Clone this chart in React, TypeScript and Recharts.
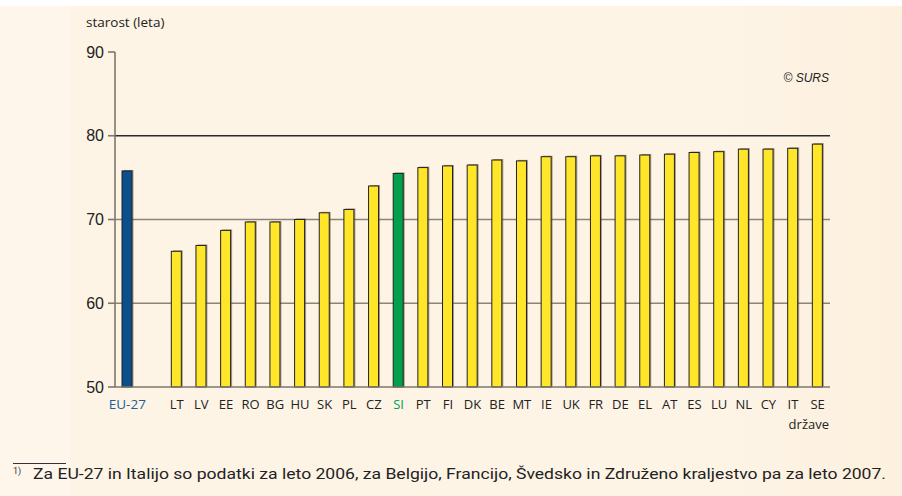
import React from "react";
import { BarChart, Bar, XAxis, YAxis, CartesianGrid, ReferenceLine } from "recharts";

const countries = ["EU-27", "", "LT", "LV", "EE", "RO", "BG", "HU", "SK", "PL", "CZ", "SI", "PT", "FI", "DK", "BE", "MT", "IE", "UK", "FR", "DE", "EL", "AT", "ES", "LU", "NL", "CY", "IT", "SE"];
const values: (number | null)[] = [75.8, null, 66.2, 66.9, 68.7, 69.7, 69.7, 70.0, 70.8, 71.2, 74.0, 75.5, 76.2, 76.4, 76.5, 77.1, 77.0, 77.5, 77.5, 77.6, 77.6, 77.7, 77.8, 78.0, 78.1, 78.4, 78.4, 78.5, 79.0];
const yTicks = [50, 60, 70, 80, 90];

const data = countries.map((c, i) => ({ name: c, value: values[i] }));

const barColor = (name: string) => (name === "EU-27" ? "#0b4f8c" : name === "SI" ? "#00a04c" : "#ffe629");
const labelColor = (name: string) => (name === "EU-27" ? "#1b5f9a" : name === "SI" ? "#00a04c" : "#222222");

const BarShape = (props: any) => {
  const { x, y, width, height, payload } = props;
  if (height == null || height <= 0) return null;
  return (
    <g>
      <rect x={x + 1.5} y={y - 1} width={width} height={height + 1} fill="rgba(95,85,72,0.55)" />
      <rect x={x} y={y} width={width} height={height} fill={barColor(payload.name)} stroke="#222" strokeWidth={1} />
    </g>
  );
};

const XTick = (props: any) => {
  const { x, y, payload } = props;
  const special = payload.value === "EU-27";
  return (
    <text x={x} y={y} dy={9} textAnchor="middle" fontFamily="'Open Sans'" fontSize={special ? 13.5 : 13} fill={labelColor(payload.value)}>
      {payload.value}
    </text>
  );
};

export default function App() {
  return (
    <div style={{ position: "fixed", left: 0, top: 0, width: 902, height: 496, background: "#ffffff", overflow: "hidden" }}>
      <div
        style={{
          position: "absolute",
          left: 0,
          top: 6,
          width: 902,
          height: 490,
          background: "linear-gradient(to right, #fef6eb 0px, #fef6eb 70px, #fdf4e6 71px, #fdf4e6 720px, #fdf0de 902px)",
        }}
      />
      <div style={{ position: "absolute", left: 0, top: 0 }}>
        <BarChart width={902} height={496} data={data} margin={{ top: 52, right: 72, bottom: 79, left: 0 }} barSize={10}>
          <CartesianGrid vertical={false} horizontalValues={[60, 70]} stroke="#8c8478" strokeWidth={1.6} />
          <ReferenceLine y={80} stroke="#2b2b2b" strokeWidth={1.3} ifOverflow="extendDomain" />
          <XAxis
            dataKey="name"
            interval={0}
            tickLine={false}
            tickSize={0}
            tickMargin={13}
            axisLine={{ stroke: "#7d776d", strokeWidth: 1.6 }}
            height={30}
            tick={<XTick />}
          />
          <YAxis
            domain={[50, 90]}
            ticks={yTicks}
            width={115}
            interval={0}
            tickSize={7}
            tickMargin={4}
            axisLine={{ stroke: "#7d776d", strokeWidth: 1.6 }}
            tickLine={{ stroke: "#7d776d", strokeWidth: 1.6 }}
            tick={{ fontFamily: "'Liberation Sans', Arial", fontSize: 16, fill: "#222" }}
          />
          <Bar dataKey="value" isAnimationActive={false} shape={<BarShape />} />
        </BarChart>
      </div>
      <div style={{ position: "absolute", left: 86, top: 13, fontFamily: "'Open Sans'", fontSize: 13.5, color: "#222", whiteSpace: "nowrap" }}>
        starost (leta)
      </div>
      <div style={{ position: "absolute", right: 902 - 829, top: 71, fontFamily: "'Liberation Sans', Arial", fontStyle: "italic", fontSize: 12, color: "#222", whiteSpace: "nowrap" }}>
        © SURS
      </div>
      <div style={{ position: "absolute", right: 902 - 829, top: 415, fontFamily: "'Open Sans'", fontSize: 13, color: "#222", whiteSpace: "nowrap" }}>
        države
      </div>
      <svg style={{ position: "absolute", left: 0, top: 450 }} width={902} height={46}>
        <line x1={13} x2={66} y1={13.5} y2={13.5} stroke="#333" strokeWidth={1} />
        <text x={13} y={24} fontFamily="Roboto" fontSize={9} fill="#333">1)</text>
        <text x={33} y={29} fontFamily="Roboto" fontSize={15} fill="#222" textLength={853} lengthAdjust="spacingAndGlyphs">
          Za EU-27 in Italijo so podatki za leto 2006, za Belgijo, Francijo, Švedsko in Združeno kraljestvo pa za leto 2007.
        </text>
      </svg>
    </div>
  );
}
